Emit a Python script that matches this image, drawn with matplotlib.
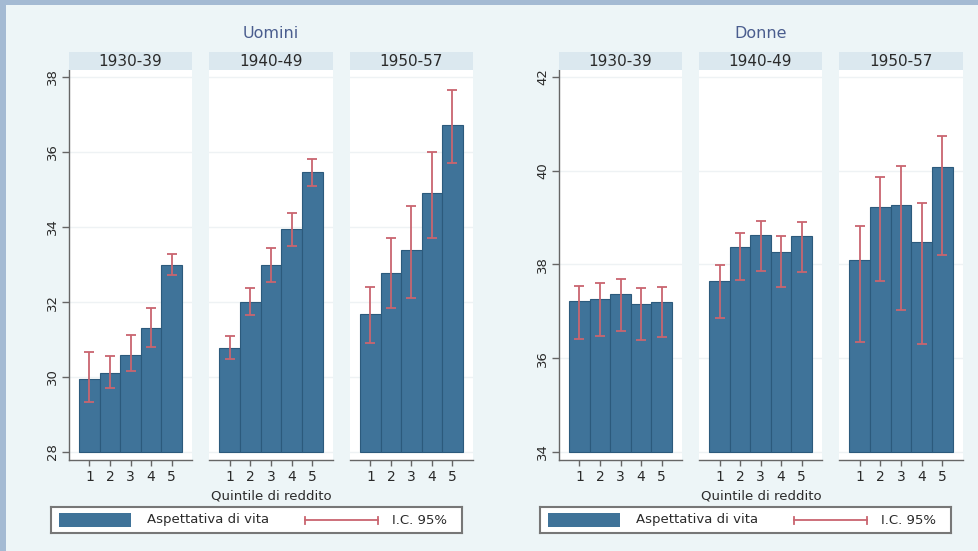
import matplotlib
matplotlib.use("Agg")
import matplotlib.pyplot as plt
from matplotlib.patches import Rectangle
from matplotlib.lines import Line2D
import numpy as np

plt.rcParams['font.family'] = ['DejaVu Sans']

# ---------------- data ----------------
periods = ['1930-39', '1940-49', '1950-57']
quintiles = [1, 2, 3, 4, 5]
groups = ['Uomini', 'Donne']

men_le = [[29.94, 30.12, 30.60, 31.30, 32.99],
          [30.78, 32.01, 32.99, 33.96, 35.47],
          [31.68, 32.78, 33.39, 34.91, 36.72]]
men_lo = [[29.34, 29.72, 30.16, 30.81, 32.72],
          [30.48, 31.65, 32.54, 33.50, 35.10],
          [30.92, 31.83, 32.10, 33.71, 35.70]]
men_hi = [[30.68, 30.56, 31.12, 31.85, 33.27],
          [31.09, 32.38, 33.43, 34.38, 35.81],
          [32.41, 33.71, 34.56, 36.01, 37.65]]

women_le = [[37.22, 37.26, 37.36, 37.15, 37.19],
            [37.65, 38.38, 38.63, 38.27, 38.61],
            [38.10, 39.23, 39.27, 38.47, 40.09]]
women_lo = [[36.42, 36.47, 36.58, 36.38, 36.46],
            [36.85, 37.67, 37.86, 37.51, 37.85],
            [36.35, 37.65, 37.03, 36.30, 38.20]]
women_hi = [[37.55, 37.61, 37.69, 37.49, 37.51],
            [37.99, 38.68, 38.93, 38.61, 38.91],
            [38.82, 39.87, 40.10, 39.32, 40.75]]

men_yticks = [28, 30, 32, 34, 36, 38]
women_yticks = [34, 36, 38, 40, 42]

xlabel = 'Quintile di reddito'
legend_labels = ['Aspettativa di vita', 'I.C. 95%']

# ---------------- style ----------------
W, H = 979, 551
BG = '#edf5f7'
BORDER = '#a4bad3'
STRIP = '#dbe8ef'
BAR = '#3f7399'
BAR_EDGE = '#2c5a7c'
CI = '#c9656f'
TXT = '#2a2a2a'
TITLE_C = '#4a5d8e'

fig = plt.figure(figsize=(W / 100, H / 100), dpi=100, facecolor=BG)

# frame bands
fig.patches.append(Rectangle((0, 1 - 5 / H), 1, 5 / H, transform=fig.transFigure,
                             facecolor=BORDER, edgecolor='none', zorder=0))
fig.patches.append(Rectangle((0, 0), 6 / W, 1, transform=fig.transFigure,
                             facecolor=BORDER, edgecolor='none', zorder=0))


def add_px(x0, y0, x1, y1, **kw):
    return fig.add_axes([x0 / W, 1 - y1 / H, (x1 - x0) / W, (y1 - y0) / H], **kw)


panel_x = [[(69, 192), (209, 333), (350, 473)],
           [(559, 682), (699, 822), (839, 963)]]
Y_TOP, Y_BOT = 70, 460
STRIP_TOP = 52

datasets = [(men_le, men_lo, men_hi, men_yticks, 28, (27.787, 38.187)),
            (women_le, women_lo, women_hi, women_yticks, 34, (33.829, 42.149))]

for g, (le, lo, hi, yt, base, ylim) in enumerate(datasets):
    for p in range(3):
        x0, x1 = panel_x[g][p]
        ax = add_px(x0, Y_TOP, x1, Y_BOT)
        ax.set_facecolor('white')
        vals = np.array(le[p])
        ax.bar(quintiles, vals - base, bottom=base, width=1.0, color=BAR,
               edgecolor=BAR_EDGE, linewidth=0.8, zorder=2)
        lo_a = np.array(lo[p])
        hi_a = np.array(hi[p])
        ax.errorbar(quintiles, (lo_a + hi_a) / 2, yerr=(hi_a - lo_a) / 2,
                    fmt='none', ecolor=CI, elinewidth=1.3, capsize=3.5,
                    capthick=1.3, zorder=3)
        ax.set_xlim(0, 6)
        ax.set_ylim(*ylim)
        ax.set_yticks(yt)
        ax.grid(axis='y', color='#eef2f4', linewidth=1.0, zorder=0)
        ax.set_axisbelow(True)
        for s in ['top', 'right']:
            ax.spines[s].set_visible(False)
        ax.spines['bottom'].set_color('#666666')
        ax.spines['bottom'].set_linewidth(1.0)
        ax.set_xticks(quintiles)
        ax.set_xticklabels([str(q) for q in quintiles])
        ax.tick_params(axis='x', length=4, width=1, color='#666666',
                       labelsize=10, labelcolor=TXT, pad=3)
        if p == 0:
            ax.spines['left'].set_color('#666666')
            ax.spines['left'].set_linewidth(1.0)
            ax.tick_params(axis='y', length=5, width=1, color='#666666',
                           labelsize=9.5, labelcolor=TXT, pad=2)
            for lab in ax.get_yticklabels():
                lab.set_rotation(90)
                lab.set_va('center')
        else:
            ax.spines['left'].set_visible(False)
            ax.tick_params(axis='y', left=False, labelleft=False)
        # strip header
        sax = add_px(x0, STRIP_TOP, x1, Y_TOP)
        sax.set_facecolor(STRIP)
        sax.set_xticks([])
        sax.set_yticks([])
        for s in sax.spines.values():
            s.set_visible(False)
        sax.text(0.5, 0.5, periods[p], ha='center', va='center',
                 fontsize=11, color=TXT, transform=sax.transAxes)

    cx = (panel_x[g][0][0] + panel_x[g][2][1]) / 2
    fig.text(cx / W, 1 - 34 / H, groups[g], ha='center', va='center',
             fontsize=11.5, color=TITLE_C)
    fig.text(cx / W, 1 - 496 / H, xlabel, ha='center', va='center',
             fontsize=9.5, color=TXT)

    # legend box
    off = 0 if g == 0 else 489
    lx0, lx1, ly0, ly1 = 51 + off, 462 + off, 507, 533
    lax = add_px(lx0, ly0, lx1, ly1)
    lax.set_xlim(0, lx1 - lx0)
    lax.set_ylim(ly1 - ly0, 0)
    lax.set_facecolor('white')
    lax.set_xticks([])
    lax.set_yticks([])
    for s in lax.spines.values():
        s.set_color('#777777')
        s.set_linewidth(1.5)
    lax.add_patch(Rectangle((8, 6), 72, 14, facecolor=BAR, edgecolor='none'))
    lax.text(96, 13, legend_labels[0], ha='left', va='center', fontsize=9.5,
             color=TXT)
    lax.add_line(Line2D([254, 327], [13, 13], color=CI, linewidth=1.3))
    lax.add_line(Line2D([254, 254], [9.5, 16.5], color=CI, linewidth=1.3))
    lax.add_line(Line2D([327, 327], [9.5, 16.5], color=CI, linewidth=1.3))
    lax.text(341, 13, legend_labels[1], ha='left', va='center', fontsize=9.5,
             color=TXT)

fig.savefig('out.png', dpi=100, facecolor=BG)
